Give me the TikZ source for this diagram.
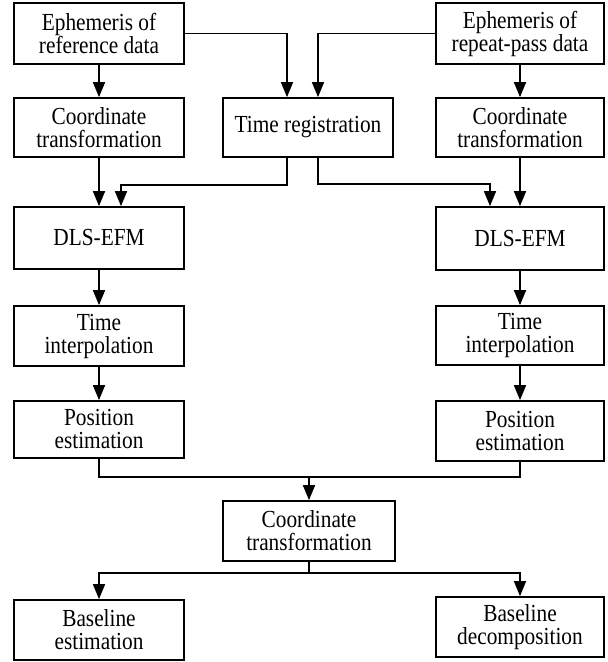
\documentclass[tikz,border=0pt]{standalone}
\usepackage{fontspec}
\setmainfont{Liberation Serif}[FakeStretch=0.87]
\usetikzlibrary{arrows.meta}
\tikzstyle{proc} = [rectangle, minimum width=170pt, minimum height=60pt, inner sep=0pt, text centered, align=center, draw=black, line width=1.7pt]
\tikzstyle{arrow} = [line width=1.6pt,-{Triangle[length=15pt,width=12pt]}]
\tikzstyle{link} = [line width=1.6pt]

\begin{document}
\begin{tikzpicture}[x=1pt,y=-1pt,font=\fontsize{24.5}{23}\selectfont]
\useasboundingbox (0,0) rectangle (608,662);
% inputs and first step
\node[proc,minimum height=61pt] (refeph) at (99,33.5) {Ephemeris of\\reference data};
\node[proc,minimum height=61pt,minimum width=168pt] (repeph) at (520,33.5) {Ephemeris of\\repeat-pass data};
\node[proc,minimum height=59pt] (coordref) at (99,127.5) {Coordinate\\transformation};
\node[proc,minimum height=59pt] (timereg) at (308,127.5) {Time registration};
\node[proc,minimum height=59pt,minimum width=168pt] (coordrep) at (520,127.5) {Coordinate\\transformation};
% the two branches
\node[proc,minimum height=62pt] (dlsref) at (99,238) {DLS-EFM};
\node[proc,minimum height=63pt,minimum width=168pt] (dlsrep) at (520,238.5) {DLS-EFM};
\node[proc] (interpref) at (99,336) {Time\\interpolation};
\node[proc,minimum height=59pt,minimum width=168pt] (interprep) at (520,335.5) {Time\\interpolation};
\node[proc,minimum height=57pt] (posref) at (99,429.5) {Position\\estimation};
\node[proc,minimum width=168pt] (posrep) at (520,431) {Position\\estimation};
% output
\node[proc,minimum width=172pt] (coordbase) at (309,531) {Coordinate\\transformation};
\node[proc] (baseest) at (99,630) {Baseline\\estimation};
\node[proc,minimum width=168pt] (basedec) at (520,627) {Baseline\\decomposition};
\coordinate (join) at (309,477);
\coordinate (split) at (309,573);

\draw[arrow] (refeph) -- (coordref);
\draw[arrow] (repeph) -- (coordrep);
\draw[arrow] (refeph.east) -| ([xshift=-21pt]timereg.north);
\draw[arrow] (repeph.west) -| ([xshift=10pt]timereg.north);
\draw[arrow] (coordref) -- (dlsref);
\draw[arrow] (coordrep) -- (dlsrep);
\draw[arrow] ([xshift=-21pt]timereg.south) -- ++(0,27) -| ([xshift=22pt]dlsref.north);
\draw[arrow] ([xshift=10pt]timereg.south) -- ++(0,26) -| ([xshift=-30pt]dlsrep.north);
\draw[arrow] (dlsref) -- (interpref);
\draw[arrow] (dlsrep) -- (interprep);
\draw[arrow] (interpref) -- (posref);
\draw[arrow] (interprep) -- (posrep);
\draw[link] (posref.south) |- (join) -| (posrep.south);
\draw[arrow] (join) -- (coordbase);
\draw[link] (coordbase) -- (split);
\draw[arrow] (split) -| (baseest.north);
\draw[arrow] (split) -| (basedec.north);
\end{tikzpicture}
\end{document}
